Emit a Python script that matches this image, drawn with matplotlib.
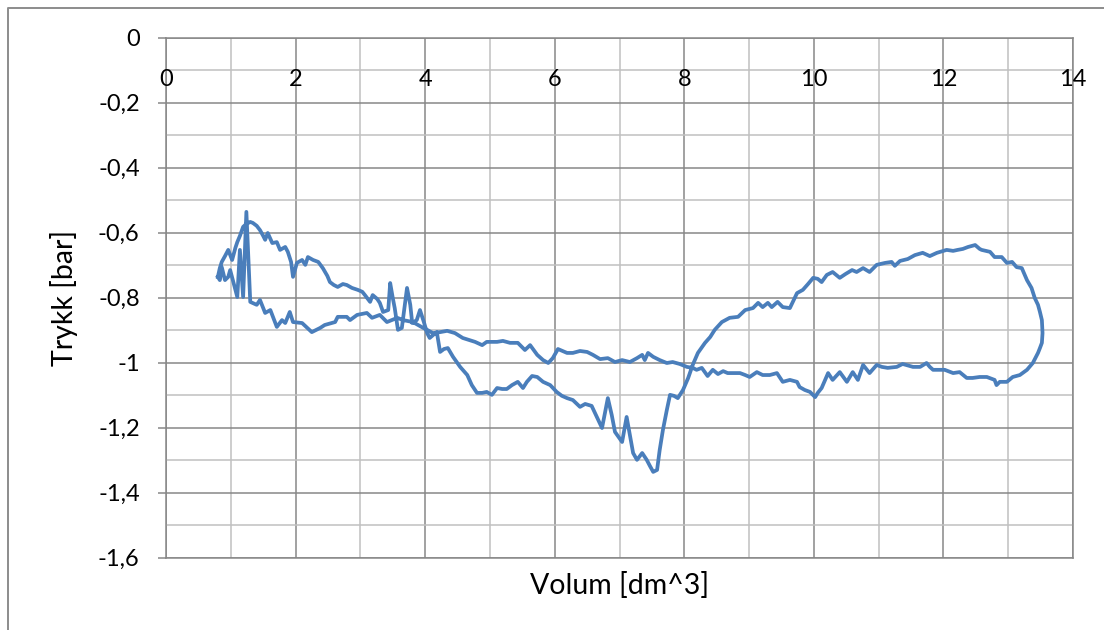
import matplotlib
matplotlib.use("Agg")
import matplotlib.pyplot as plt
from matplotlib.lines import Line2D

plt.rcParams["font.family"] = ["Lato", "DejaVu Sans"]

# volume [dm^3] and pressure [bar], one closed loop
volum = [
    0.80, 0.83, 0.86, 0.91, 0.96, 1.02, 1.07, 1.10, 1.14, 1.19, 1.24, 1.30,
    1.34, 1.40, 1.45, 1.50, 1.53, 1.57, 1.64, 1.71, 1.76, 1.84, 1.88, 1.93,
    1.96, 2.02, 2.10, 2.15, 2.19, 2.27, 2.35, 2.42, 2.49, 2.53, 2.59, 2.65,
    2.73, 2.79, 2.87, 2.96, 3.03, 3.07, 3.15, 3.19, 3.26, 3.30, 3.35, 3.43,
    3.46, 3.50, 3.53, 3.58, 3.64, 3.72, 3.77, 3.80, 3.87, 3.92, 3.98, 4.03,
    4.07, 4.14, 4.18, 4.23, 4.29, 4.35, 4.43, 4.54, 4.65, 4.72, 4.80, 4.88,
    4.95, 5.03, 5.11, 5.19, 5.26, 5.34, 5.43, 5.51, 5.57, 5.65, 5.73, 5.82,
    5.93, 6.03, 6.11, 6.19, 6.28, 6.39, 6.47, 6.57, 6.65, 6.73, 6.82, 6.88,
    6.93, 7.04, 7.11, 7.16, 7.21, 7.27, 7.35, 7.42, 7.47, 7.52, 7.58, 7.62,
    7.67, 7.73, 7.78, 7.84, 7.90, 7.98, 8.06, 8.13, 8.21, 8.32, 8.40, 8.47,
    8.58, 8.70, 8.83, 8.94, 9.06, 9.14, 9.21, 9.29, 9.35, 9.44, 9.52, 9.63,
    9.69, 9.74, 9.83, 9.91, 9.99, 10.06, 10.12, 10.20, 10.29, 10.40, 10.49, 10.59,
    10.66, 10.76, 10.86, 10.97, 11.10, 11.20, 11.25, 11.33, 11.45, 11.56, 11.68, 11.79,
    11.90, 12.05, 12.15, 12.22, 12.30, 12.38, 12.49, 12.56, 12.59, 12.72, 12.79, 12.90,
    12.98, 13.06, 13.13, 13.21, 13.29, 13.36, 13.41, 13.46, 13.49, 13.52, 13.53, 13.52,
    13.49, 13.46, 13.38, 13.29, 13.18, 13.07, 12.98, 12.87, 12.82, 12.79, 12.67, 12.56,
    12.45, 12.36, 12.25, 12.15, 12.02, 11.93, 11.84, 11.79, 11.74, 11.64, 11.53, 11.37,
    11.28, 11.14, 11.05, 10.97, 10.86, 10.76, 10.68, 10.60, 10.51, 10.40, 10.29, 10.22,
    10.12, 10.06, 10.02, 9.94, 9.86, 9.78, 9.74, 9.63, 9.52, 9.43, 9.32, 9.21,
    9.12, 9.01, 8.94, 8.86, 8.74, 8.67, 8.60, 8.52, 8.44, 8.36, 8.27, 8.19,
    8.13, 8.04, 7.93, 7.82, 7.73, 7.62, 7.52, 7.44, 7.39, 7.35, 7.27, 7.16,
    7.04, 6.93, 6.82, 6.70, 6.59, 6.50, 6.39, 6.28, 6.19, 6.05, 5.97, 5.90,
    5.82, 5.73, 5.62, 5.54, 5.43, 5.31, 5.20, 5.11, 4.95, 4.88, 4.77, 4.58,
    4.46, 4.34, 4.23, 4.12, 4.03, 3.97, 3.81, 3.66, 3.57, 3.41, 3.30, 3.18,
    3.10, 2.95, 2.84, 2.79, 2.65, 2.61, 2.45, 2.38, 2.25, 2.10, 1.96, 1.91,
    1.84, 1.79, 1.71, 1.61, 1.53, 1.45, 1.40, 1.30, 1.24, 1.19, 1.14, 1.10,
    1.03, 0.99, 0.96, 0.91, 0.86, 0.83, 0.80,
]
trykk = [
    -0.736, -0.709, -0.690, -0.672, -0.653, -0.684, -0.647, -0.629, -0.610, -0.582, -0.573, -0.567,
    -0.570, -0.579, -0.592, -0.610, -0.622, -0.601, -0.632, -0.629, -0.653, -0.644, -0.659, -0.690,
    -0.736, -0.693, -0.684, -0.699, -0.675, -0.684, -0.690, -0.709, -0.733, -0.752, -0.761, -0.767,
    -0.758, -0.761, -0.770, -0.776, -0.782, -0.792, -0.813, -0.792, -0.804, -0.816, -0.844, -0.838,
    -0.755, -0.801, -0.832, -0.899, -0.893, -0.770, -0.822, -0.878, -0.869, -0.838, -0.875, -0.909,
    -0.924, -0.912, -0.906, -0.967, -0.958, -0.955, -0.982, -1.013, -1.038, -1.069, -1.093, -1.093,
    -1.090, -1.099, -1.078, -1.081, -1.081, -1.069, -1.059, -1.078, -1.059, -1.041, -1.044, -1.059,
    -1.069, -1.090, -1.102, -1.109, -1.115, -1.136, -1.127, -1.133, -1.167, -1.201, -1.109, -1.161,
    -1.213, -1.244, -1.167, -1.222, -1.278, -1.299, -1.278, -1.299, -1.318, -1.336, -1.330, -1.269,
    -1.207, -1.146, -1.099, -1.102, -1.109, -1.084, -1.047, -1.007, -0.970, -0.939, -0.921, -0.899,
    -0.875, -0.862, -0.859, -0.838, -0.832, -0.816, -0.829, -0.816, -0.829, -0.813, -0.829, -0.832,
    -0.807, -0.786, -0.776, -0.758, -0.739, -0.742, -0.752, -0.730, -0.721, -0.739, -0.727, -0.715,
    -0.721, -0.709, -0.721, -0.699, -0.693, -0.690, -0.702, -0.687, -0.681, -0.669, -0.662, -0.672,
    -0.662, -0.653, -0.656, -0.653, -0.650, -0.644, -0.638, -0.650, -0.653, -0.659, -0.675, -0.675,
    -0.693, -0.690, -0.706, -0.709, -0.746, -0.770, -0.801, -0.822, -0.844, -0.869, -0.909, -0.939,
    -0.955, -0.970, -1.001, -1.022, -1.038, -1.044, -1.059, -1.059, -1.069, -1.053, -1.044, -1.044,
    -1.047, -1.047, -1.029, -1.032, -1.022, -1.022, -1.022, -1.013, -1.001, -1.013, -1.013, -1.004,
    -1.013, -1.016, -1.013, -1.007, -1.032, -1.007, -1.053, -1.029, -1.059, -1.029, -1.053, -1.032,
    -1.078, -1.093, -1.106, -1.090, -1.084, -1.075, -1.059, -1.053, -1.059, -1.032, -1.038, -1.038,
    -1.029, -1.044, -1.038, -1.032, -1.032, -1.032, -1.026, -1.035, -1.022, -1.041, -1.016, -1.022,
    -1.016, -1.013, -1.004, -0.998, -1.001, -0.992, -0.982, -0.970, -0.992, -0.976, -0.986, -0.998,
    -0.992, -0.998, -0.986, -0.989, -0.976, -0.967, -0.964, -0.970, -0.970, -0.958, -0.986, -1.001,
    -0.992, -0.976, -0.946, -0.961, -0.939, -0.939, -0.933, -0.936, -0.936, -0.946, -0.936, -0.924,
    -0.909, -0.902, -0.906, -0.909, -0.899, -0.893, -0.875, -0.869, -0.862, -0.875, -0.853, -0.862,
    -0.847, -0.853, -0.869, -0.859, -0.859, -0.875, -0.884, -0.893, -0.906, -0.878, -0.875, -0.844,
    -0.878, -0.869, -0.890, -0.838, -0.847, -0.807, -0.822, -0.813, -0.536, -0.798, -0.653, -0.798,
    -0.746, -0.715, -0.736, -0.746, -0.706, -0.746, -0.736,
]

x_major = [0, 2, 4, 6, 8, 10, 12, 14]
x_minor = [1, 3, 5, 7, 9, 11, 13]
y_major = [0, -0.2, -0.4, -0.6, -0.8, -1, -1.2, -1.4, -1.6]
y_minor = [-0.1, -0.3, -0.5, -0.7, -0.9, -1.1, -1.3, -1.5]
y_labels = ["0", "-0,2", "-0,4", "-0,6", "-0,8", "-1", "-1,2", "-1,4", "-1,6"]

fig = plt.figure(figsize=(11.04, 6.30), dpi=100)
ax = fig.add_axes([0.1504, 0.1148, 0.8215, 0.8254])

ax.plot(volum, trykk, color="#4A7EBB", linewidth=2.7, solid_joinstyle="round", zorder=3)

ax.set_xlim(0, 14)
ax.set_ylim(-1.6, 0)

ax.set_xticks(x_major)
ax.set_xticks(x_minor, minor=True)
ax.set_yticks(y_major)
ax.set_yticks(y_minor, minor=True)
ax.set_yticklabels(y_labels)
ax.set_xticklabels([])

ax.grid(which="major", color="#878787", linewidth=1.1)
ax.grid(which="minor", color="#C0C0C0", linewidth=1.1)
ax.set_axisbelow(True)

ax.tick_params(axis="x", which="both", length=0)
ax.tick_params(axis="y", which="major", length=6, width=1.1, color="#878787",
               pad=13, labelsize=17)
ax.tick_params(axis="y", which="minor", length=0)

for s in ax.spines.values():
    s.set_color("#878787")
    s.set_linewidth(1.1)

# x axis crosses at y = 0, so its labels sit just under the top edge
for v in x_major:
    ax.text(v, -0.13, str(v), ha="center", va="center", fontsize=17)

ax.text(-0.1125, 0.5, "Trykk [bar]", transform=ax.transAxes, rotation=90,
        ha="center", va="center", fontsize=20.5)
ax.text(0.5, -0.053, "Volum [dm^3]", transform=ax.transAxes,
        ha="center", va="center", fontsize=20.5)

# chart area border (cut off on the right and bottom)
fig.add_artist(Line2D([8 / 1104, 8 / 1104, 1.0], [0.0, 1 - 8 / 630, 1 - 8 / 630],
                      transform=fig.transFigure, color="#8C8C8C", linewidth=1.4))

fig.savefig("out.png", dpi=100)
